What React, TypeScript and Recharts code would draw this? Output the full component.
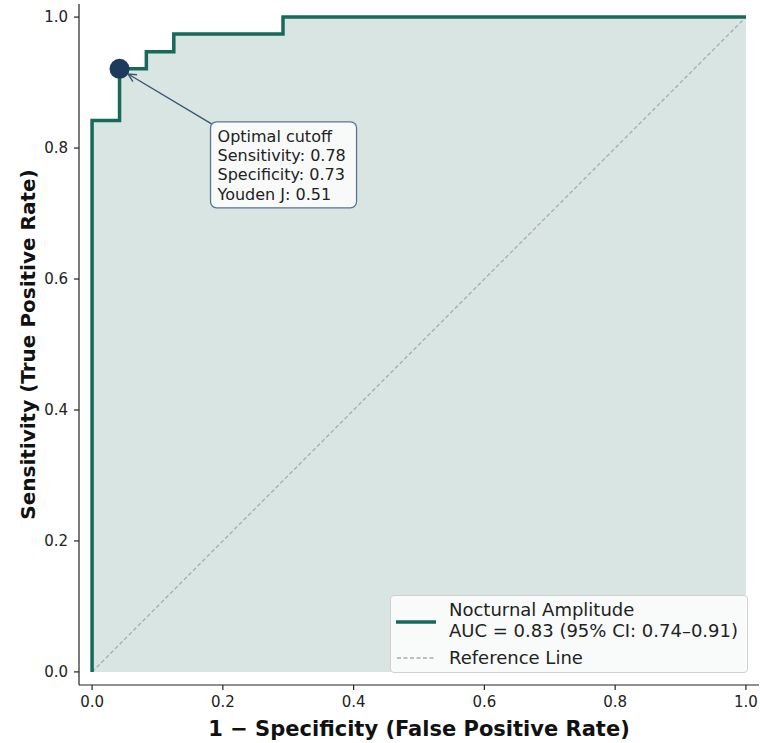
import React from 'react';
import { ComposedChart, Area, Line, Scatter, XAxis, YAxis, Legend } from 'recharts';

const FONT = '"DejaVu Sans", sans-serif';
const TEAL = '#17695a';
const NAVY = '#1e3a5c';

// ROC steps (1 - specificity, sensitivity)
const rocFpr = [0, 0, 0.042, 0.083, 0.125, 0.292, 1];
const rocTpr = [0, 0.842, 0.921, 0.947, 0.974, 1, 1];
const refFpr = [0, 1];
const refTpr = [0, 1];
const optimal = { fpr: 0.042, tpr: 0.921 };
const cutoffLines = ['Optimal cutoff', 'Sensitivity: 0.78', 'Specificity: 0.73', 'Youden J: 0.51'];
const ticks = [0, 0.2, 0.4, 0.6, 0.8, 1.0];
const legendLabels = ['Nocturnal Amplitude', 'AUC = 0.83 (95% CI: 0.74\u20130.91)', 'Reference Line'];

const rocData = rocFpr.map((x, i) => ({ fpr: x, tpr: rocTpr[i] }));
const refData = refFpr.map((x, i) => ({ fpr: x, ref: refTpr[i] }));

function CutoffMarker(props: any) {
  const { cx, cy } = props;
  const bx = cx + 91;
  const by = cy + 53;
  // arrow from box corner to the point
  const dx = cx - bx;
  const dy = cy - (by + 2);
  const len = Math.sqrt(dx * dx + dy * dy);
  const ux = dx / len;
  const uy = dy / len;
  const tipX = cx - ux * 10;
  const tipY = cy - uy * 10;
  const h = 8;
  const w = 4;
  return (
    <g>
      <line x1={bx + 1} y1={by + 2} x2={tipX} y2={tipY} stroke="#3b5573" strokeWidth={1.4} />
      <polyline
        points={`${tipX - ux * h - uy * w},${tipY - uy * h + ux * w} ${tipX},${tipY} ${tipX - ux * h + uy * w},${tipY - uy * h - ux * w}`}
        fill="none"
        stroke="#3b5573"
        strokeWidth={1.4}
      />
      <circle cx={cx} cy={cy} r={10} fill={NAVY} />
      <rect x={bx} y={by} width={146} height={86} rx={6} fill="#f8fafa" stroke="#5a7390" strokeWidth={1.3} />
      {cutoffLines.map((t, i) => (
        <text key={t} x={bx + 7} y={by + 20 + i * 19.3} fontSize={16} fill="#222" fontFamily={FONT}>
          {t}
        </text>
      ))}
    </g>
  );
}

function LegendBox() {
  return (
    <div
      style={{
        width: 358,
        height: 78,
        border: '1px solid #d0d0d0',
        borderRadius: 4,
        background: 'rgba(255,255,255,0.85)',
        fontFamily: FONT,
        fontSize: 18,
        color: '#222',
        position: 'relative',
        boxSizing: 'border-box',
        whiteSpace: 'nowrap',
      }}
    >
      <svg width={50} height={78} style={{ position: 'absolute', left: 0, top: 0 }}>
        <line x1={5} y1={26} x2={45} y2={26} stroke={TEAL} strokeWidth={3.5} />
        <line x1={6} y1={62} x2={44} y2={62} stroke="#aaaaaa" strokeWidth={1.3} strokeDasharray="4 2.5" />
      </svg>
      <div style={{ position: 'absolute', left: 58, top: 3, lineHeight: '21px' }}>
        {legendLabels[0]}
        <br />
        {legendLabels[1]}
      </div>
      <div style={{ position: 'absolute', left: 58, top: 51, lineHeight: '21px' }}>{legendLabels[2]}</div>
    </div>
  );
}

export default function App() {
  const tick = { fill: '#222', fontSize: 15, fontFamily: FONT };
  return (
    <div style={{ position: 'absolute', left: 0, top: 0, background: '#fff' }}>
      <ComposedChart width={760} height={743} margin={{ top: 4, right: 1, left: 0, bottom: 0 }}>
        <XAxis
          type="number"
          dataKey="fpr"
          domain={[-0.02, 1.02]}
          ticks={ticks}
          tickFormatter={(v: number) => v.toFixed(1)}
          tick={tick}
          tickSize={5}
          tickMargin={6}
          height={58}
          stroke="#222"
          strokeWidth={1.2}
          allowDuplicatedCategory={false}
          label={{
            value: '1 \u2212 Specificity (False Positive Rate)',
            position: 'insideBottom',
            offset: 7,
            style: { fontSize: 21, fontWeight: 'bold', fill: '#111', fontFamily: FONT },
          }}
        />
        <YAxis
          type="number"
          domain={[-0.02, 1.02]}
          ticks={ticks}
          tickFormatter={(v: number) => v.toFixed(1)}
          tick={tick}
          tickSize={5}
          tickMargin={6}
          width={79}
          stroke="#222"
          strokeWidth={1.2}
          label={{
            value: 'Sensitivity (True Positive Rate)',
            angle: -90,
            position: 'insideLeft',
            offset: 28,
            style: { fontSize: 20, fontWeight: 'bold', fill: '#111', fontFamily: FONT, textAnchor: 'middle' },
          }}
        />
        <Area
          data={rocData}
          dataKey="tpr"
          type="stepAfter"
          stroke="none"
          fill="#d8e5e2"
          fillOpacity={1}
          isAnimationActive={false}
          legendType="none"
        />
        <Line
          data={refData}
          dataKey="ref"
          stroke="#aaaaaa"
          strokeWidth={1.3}
          strokeDasharray="4 2.5"
          dot={false}
          isAnimationActive={false}
        />
        <Line
          data={rocData}
          dataKey="tpr"
          type="stepAfter"
          stroke={TEAL}
          strokeWidth={3.5}
          dot={false}
          isAnimationActive={false}
        />
        <Scatter
          data={[optimal]}
          dataKey="tpr"
          shape={CutoffMarker}
          isAnimationActive={false}
        />
        <Legend
          layout="vertical"
          align="center"
          verticalAlign="middle"
          content={() => <LegendBox />}
          wrapperStyle={{ position: 'absolute', left: 390, top: 595, width: 360, height: 80 }}
        />
      </ComposedChart>
    </div>
  );
}
